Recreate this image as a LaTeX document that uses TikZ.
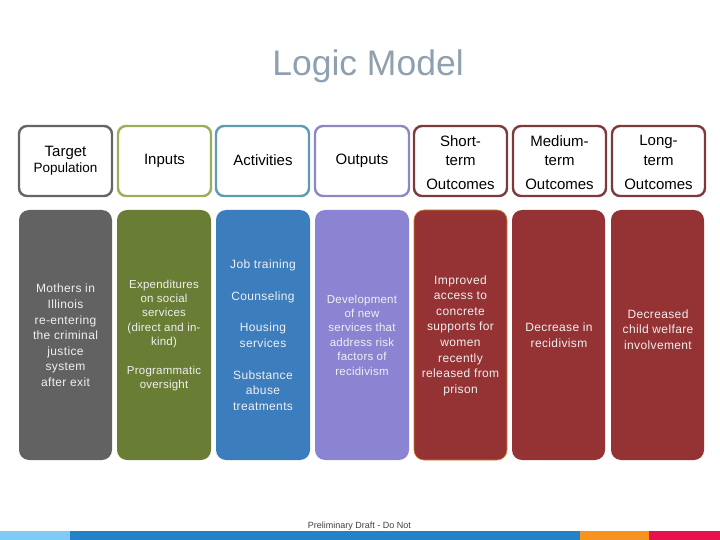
\documentclass[tikz,border=0pt]{standalone}
\usepackage{fontspec}
\setmainfont{Liberation Sans}
\definecolor{cgray}{HTML}{626262}
\definecolor{colive}{HTML}{6A7D34}
\definecolor{cblue}{HTML}{3B7DBD}
\definecolor{cpurple}{HTML}{8B84D2}
\definecolor{cred}{HTML}{943234}
\definecolor{bgray}{HTML}{656565}
\definecolor{bolive}{HTML}{9AAE5C}
\definecolor{bteal}{HTML}{5E9CAE}
\definecolor{bpurple}{HTML}{8E88C2}
\definecolor{bred}{HTML}{7C3A3A}
\definecolor{ctitle}{HTML}{8FA0B0}
\definecolor{fbl}{HTML}{7FCBF5}
\definecolor{fbd}{HTML}{2383C6}
\definecolor{for}{HTML}{F7931E}
\definecolor{frd}{HTML}{E8104F}
\tikzset{
  headbox/.style={draw, line width=2.4pt, rounded corners=8pt, fill=white},
  bodybox/.style={rounded corners=10pt},
  headtxt/.style={font=\fontsize{15}{17}\selectfont, text=black, inner sep=0pt},
  bodytxt/.style={font=\fontsize{12}{15.6}\selectfont\addfontfeature{LetterSpace=3}, text=white!94!black, align=center, inner sep=0pt},
  smalltxt/.style={font=\fontsize{11.5}{14.4}\selectfont\addfontfeature{LetterSpace=2}, text=white!94!black, align=center, inner sep=0pt},
}
\begin{document}
\begin{tikzpicture}[x=1pt,y=-1pt]
\useasboundingbox (0,0) rectangle (720,540);
% title
\node[font=\fontsize{35.5}{40}\selectfont, text=ctitle, inner sep=0pt] (title) at (368,66) {Logic Model};
% header boxes
\draw[headbox, draw=bgray] (19,126) rectangle (112,196);
\draw[headbox, draw=bolive] (118,126) rectangle (211,196);
\draw[headbox, draw=bteal] (216,126) rectangle (309,196);
\draw[headbox, draw=bpurple] (315,126) rectangle (409,196);
\draw[headbox, draw=bred] (414,126) rectangle (507,196);
\draw[headbox, draw=bred] (513,126) rectangle (606,196);
\draw[headbox, draw=bred] (612,126) rectangle (705,196);
% header texts
\node[headtxt] (h1a) at (65.5,153) {Target};
\node[headtxt, font=\fontsize{13.5}{15}\selectfont] (h1b) at (65.5,169) {Population};
\node[headtxt] (h2) at (164.5,160.5) {Inputs};
\node[headtxt] (h3) at (263,160.5) {Activities};
\node[headtxt] (h4) at (362,160.5) {Outputs};
\node[headtxt] (h5a) at (460.5,141.5) {Short-};
\node[headtxt] (h5b) at (460.5,160.5) {term};
\node[headtxt] (h5c) at (460.5,184.5) {Outcomes};
\node[headtxt] (h6a) at (559.5,141.5) {Medium-};
\node[headtxt] (h6b) at (559.5,160.5) {term};
\node[headtxt] (h6c) at (559.5,184.5) {Outcomes};
\node[headtxt] (h7a) at (658.5,141.5) {Long-};
\node[headtxt] (h7b) at (658.5,160.5) {term};
\node[headtxt] (h7c) at (658.5,184.5) {Outcomes};
% body boxes
\fill[bodybox, cgray] (19,210) rectangle (112,460);
\fill[bodybox, colive] (117,210) rectangle (211,460);
\fill[bodybox, cblue] (216,210) rectangle (310,460);
\fill[bodybox, cpurple] (315,210) rectangle (409,460);
\filldraw[bodybox, fill=cred, draw=brown!70!orange, line width=0.6pt] (414,210) rectangle (507,460);
\fill[bodybox, cred] (512,210) rectangle (605,460);
\fill[bodybox, cred] (611,210) rectangle (704,460);
% body texts
\node[bodytxt] (b1) at (65.5,335.5) {Mothers in\\Illinois\\re-entering\\the criminal\\justice\\system\\after exit};
\node[smalltxt] (b2a) at (164,314) {Expenditures\\on social\\services\\(direct and in-\\kind)};
\node[smalltxt] (b2b) at (164,378.5) {Programmatic\\oversight};
\node[bodytxt] (b3a) at (263,265) {Job training};
\node[bodytxt] (b3b) at (263,297) {Counseling};
\node[bodytxt] (b3c) at (263,335.5) {Housing\\services};
\node[bodytxt] (b3d) at (263,390.5) {Substance\\abuse\\treatments};
\node[smalltxt] (b4) at (362,335) {Development\\of new\\services that\\address risk\\factors of\\recidivism};
\node[bodytxt] (b5) at (460.5,335.5) {Improved\\access to\\concrete\\supports for\\women\\recently\\released from\\prison};
\node[bodytxt] (b6) at (559,335.5) {Decrease in\\recidivism};
\node[bodytxt] (b7) at (658,329.5) {Decreased\\child welfare\\involvement};
% footer
\node[font=\fontsize{9}{10}\selectfont, text=black!75, inner sep=0pt] (foot) at (359.5,526.5) {Preliminary Draft - Do Not};
\fill[fbl] (0,531) rectangle (70,540);
\fill[fbd] (70,531) rectangle (580,540);
\fill[for] (580,531) rectangle (649,540);
\fill[frd] (649,531) rectangle (720,540);
\end{tikzpicture}
\end{document}
